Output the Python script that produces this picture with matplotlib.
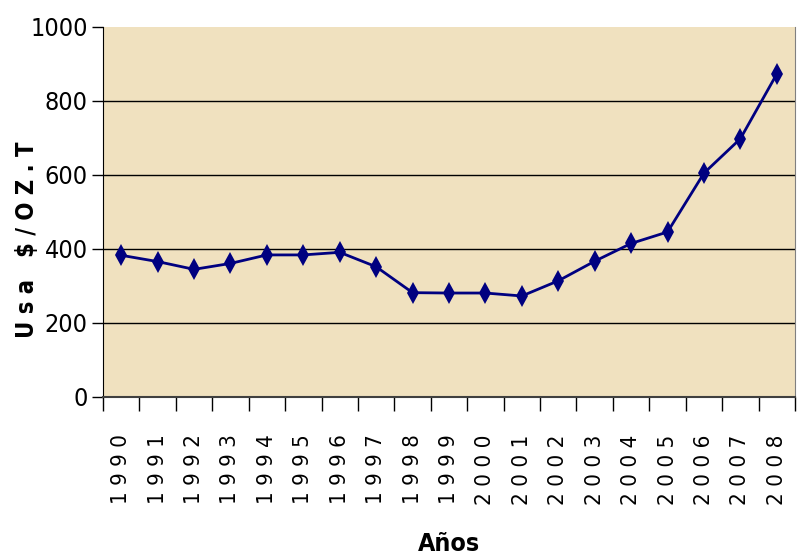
import numpy as np
import matplotlib.pyplot as plt

# gold price, USD per troy ounce
years = [str(y) for y in range(1990, 2009)]
prices = [383, 366, 345, 361, 384, 384, 391, 352, 282, 281,
          281, 273, 314, 367, 415, 446, 605, 698, 873]

plt.rcParams['font.family'] = ['DejaVu Sans']
plt.rcParams['font.stretch'] = 'condensed'

fig = plt.figure(figsize=(7.98, 5.6), dpi=100)
ax = fig.add_axes([103/798, 1 - 397/560, 692/798, 370/560])
ax.set_facecolor('#f0e1bf')

x = np.arange(len(years))
ax.plot(x, prices, color='#000080', lw=2, marker='d', ms=11, mew=0)

ax.set_xlim(-0.5, len(years) - 0.5)
ax.set_ylim(0, 1000)
ax.set_yticks([0, 200, 400, 600, 800, 1000])
ax.tick_params(axis='y', labelsize=18, length=8, width=1, direction='out', pad=3)
for v in [200, 400, 600, 800]:
    ax.axhline(v, color='black', lw=1, zorder=1)

# category boundaries carry the ticks, labels sit in the middle
ax.set_xticks(np.arange(len(years) + 1) - 0.5)
ax.set_xticklabels([])
ax.set_xticks(x, minor=True)
ax.set_xticklabels([' '.join(y) for y in years], minor=True, rotation=90,
                   fontsize=16, va='top')
ax.tick_params(axis='x', which='major', length=10, width=1, direction='out')
ax.tick_params(axis='x', which='minor', length=0, pad=27)

ax.spines['top'].set_visible(False)
ax.spines['right'].set_color('#808080')
ax.spines['left'].set_color('black')
ax.spines['bottom'].set_color('#404040')
ax.spines['bottom'].set_linewidth(1.5)

fig.text(27/798, 1 - 240/560, 'U s a   $ / O Z . T', rotation=90, fontsize=17,
         fontweight='bold', ha='center', va='center')
fig.text(449/798, 1 - 544/560, 'Años', fontsize=18, fontweight='bold',
         ha='center', va='center')

fig.savefig('out.png', dpi=100)
